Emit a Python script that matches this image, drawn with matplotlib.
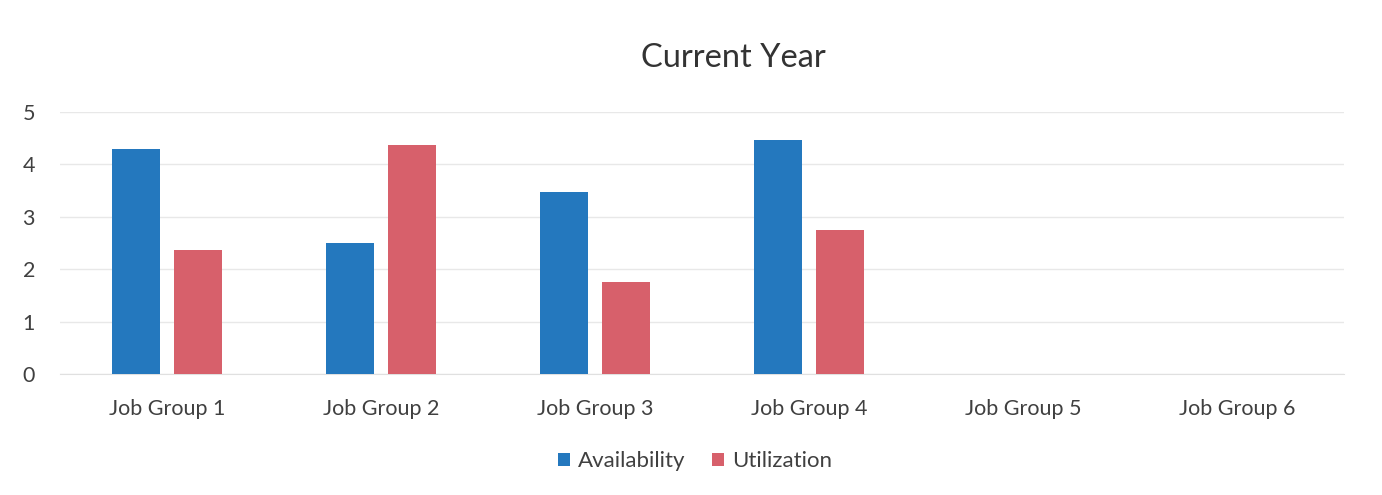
import matplotlib.pyplot as plt
import numpy as np

plt.rcParams['font.family'] = ['Lato', 'DejaVu Sans']

groups = ["Job Group 1", "Job Group 2", "Job Group 3", "Job Group 4", "Job Group 5", "Job Group 6"]
availability = [4.3, 2.5, 3.47, 4.46, 0, 0]
utilization = [2.36, 4.38, 1.75, 2.74, 0, 0]

blue = "#2478be"
red = "#d7606b"

fig = plt.figure(figsize=(13.82, 4.95), dpi=100)
ax = fig.add_axes([0.0434, 0.2444, 0.9291, 0.5293])

x = np.arange(len(groups))
w = 0.224
ax.bar(x - 0.143, availability, w, color=blue, label="Availability", zorder=3)
ax.bar(x + 0.143, utilization, w, color=red, label="Utilization", zorder=3)

ax.set_xlim(-0.5, len(groups) - 0.5)
ax.set_ylim(0, 5)
ax.set_yticks(range(6))
ax.set_xticks(x)
ax.set_xticklabels(groups)
ax.tick_params(axis='both', length=0, labelsize=15.5, colors="#404040")
ax.tick_params(axis='x', pad=18)
ax.tick_params(axis='y', pad=18)
ax.grid(axis='y', color="#e8e8e8", linewidth=1, zorder=0)
for s in ["top", "right", "left"]:
    ax.spines[s].set_visible(False)
ax.spines["bottom"].set_color("#e0e0e0")

fig.text(0.531, 0.882, "Current Year", ha="center", va="center", fontsize=23.5, color="#333333")
fig.legend(loc="center", bbox_to_anchor=(0.503, 0.068), ncol=2, frameon=False,
           fontsize=16, handlelength=0.55, handleheight=0.55, handletextpad=0.35,
           columnspacing=1.2, labelcolor="#404040")

fig.savefig("out.png", dpi=100)
